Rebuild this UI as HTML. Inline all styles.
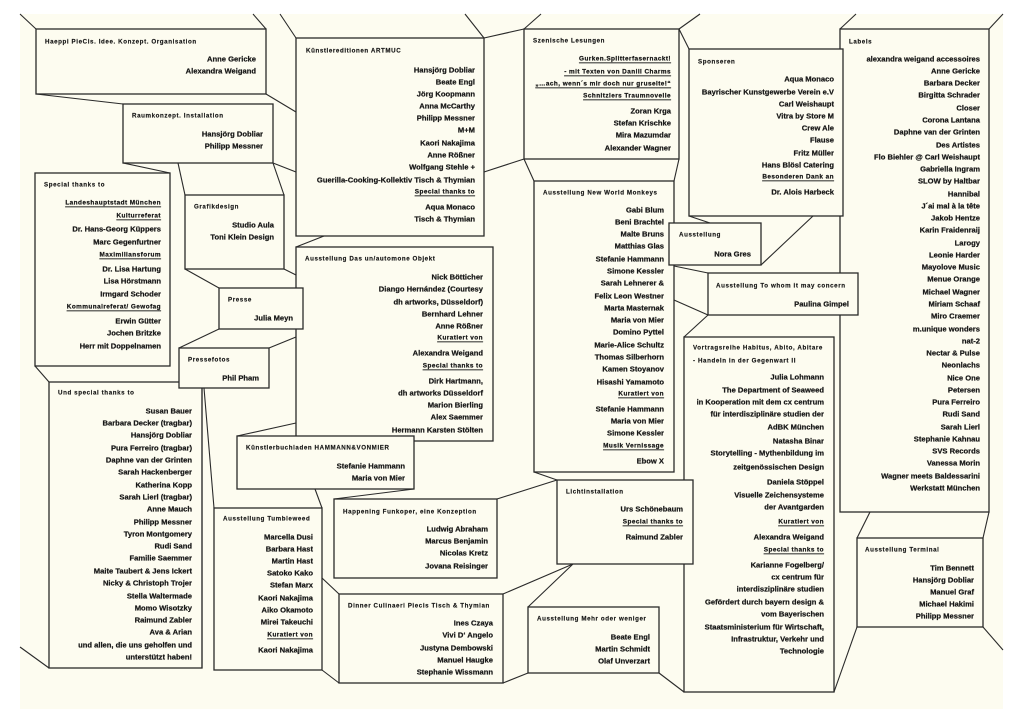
<!DOCTYPE html>
<html><head><meta charset="utf-8"><style>
html,body{margin:0;padding:0;background:#fff}
svg{display:block}
.n{font-family:"Liberation Sans",sans-serif;font-weight:bold;font-size:7.6px;text-anchor:end;dominant-baseline:central;fill:#151515;stroke:#151515;stroke-width:0.22px}
.u{text-decoration:underline;font-size:6.4px;letter-spacing:0.45px}
.h{font-family:"Liberation Sans",sans-serif;font-weight:bold;font-size:6.2px;letter-spacing:0.6px;dominant-baseline:central;fill:#151515;stroke:#151515;stroke-width:0.15px}
rect{fill:#fdfcf0;stroke:#2a2a2a;stroke-width:1.3}
line{stroke:#2a2a2a;stroke-width:1.1}
</style></head><body>
<svg width="1024" height="724" viewBox="0 0 1024 724" xmlns="http://www.w3.org/2000/svg">
<rect x="20" y="14" width="983" height="695" style="fill:#fdfcf0;stroke:none"/>
<line x1="20" y1="14" x2="36" y2="29"/><line x1="253" y1="14" x2="266" y2="29"/>
<line x1="36" y1="94" x2="123" y2="104"/><line x1="266" y1="94" x2="296" y2="112"/>
<line x1="123" y1="163" x2="170" y2="173"/><line x1="178" y1="163" x2="185" y2="195"/>
<line x1="273" y1="163" x2="284" y2="195"/><line x1="273" y1="163" x2="296" y2="172"/>
<line x1="185" y1="269" x2="219" y2="288"/><line x1="284" y1="269" x2="296" y2="275"/>
<line x1="219" y1="329" x2="179" y2="348"/><line x1="269" y1="348" x2="296" y2="337"/>
<line x1="204" y1="388" x2="214" y2="508"/><line x1="35" y1="366" x2="49" y2="382"/>
<line x1="20" y1="647" x2="49" y2="668"/>
<line x1="315" y1="489" x2="322" y2="508"/><line x1="322" y1="578" x2="339" y2="594"/>
<line x1="322" y1="670" x2="339" y2="683"/>
<line x1="280" y1="14" x2="296" y2="38"/><line x1="465" y1="14" x2="484" y2="38"/>
<line x1="484" y1="38" x2="524" y2="29"/><line x1="484" y1="172" x2="524" y2="159"/>
<line x1="324" y1="236" x2="296" y2="247"/>
<line x1="524" y1="29" x2="541" y2="14"/><line x1="679" y1="29" x2="700" y2="14"/>
<line x1="679" y1="29" x2="689" y2="49"/><line x1="524" y1="159" x2="534" y2="181"/>
<line x1="679" y1="159" x2="674" y2="181"/>
<line x1="840" y1="29" x2="856" y2="14"/><line x1="989" y1="29" x2="1003" y2="14"/>
<line x1="689" y1="216" x2="710" y2="223"/><line x1="761" y1="265" x2="813" y2="216"/>
<line x1="674" y1="266" x2="708" y2="273"/><line x1="674" y1="300" x2="708" y2="315"/>
<line x1="708" y1="315" x2="684" y2="337"/>
<line x1="296" y1="423" x2="237" y2="436"/><line x1="414" y1="489" x2="334" y2="499"/>
<line x1="534" y1="472" x2="557" y2="480"/><line x1="557" y1="480" x2="497" y2="499"/>
<line x1="573" y1="564" x2="503" y2="594"/><line x1="573" y1="564" x2="528" y2="607"/>
<line x1="503" y1="683" x2="528" y2="673"/><line x1="659" y1="673" x2="684" y2="692"/>
<line x1="834" y1="692" x2="857" y2="627"/><line x1="870" y1="512" x2="857" y2="538"/>
<line x1="989" y1="512" x2="983" y2="538"/><line x1="983" y1="627" x2="1003" y2="650"/>

<rect x="840" y="29" width="149" height="483"/>
<text class="h" x="849" y="42">Labels</text>
<g>
<text class="n" x="980" y="59">alexandra weigand accessoires</text><text class="n" x="980" y="71">Anne Gericke</text><text class="n" x="980" y="83">Barbara Decker</text><text class="n" x="980" y="95">Birgitta Schrader</text><text class="n" x="980" y="108">Closer</text><text class="n" x="980" y="120">Corona Lantana</text><text class="n" x="980" y="132">Daphne van der Grinten</text><text class="n" x="980" y="145">Des Artistes</text><text class="n" x="980" y="157">Flo Biehler @ Carl Weishaupt</text><text class="n" x="980" y="169">Gabriella Ingram</text><text class="n" x="980" y="181">SLOW by Haltbar</text><text class="n" x="980" y="194">Hannibal</text><text class="n" x="980" y="206">J´ai mal à la tête</text><text class="n" x="980" y="218">Jakob Hentze</text><text class="n" x="980" y="230">Karin Fraidenraij</text><text class="n" x="980" y="243">Larogy</text><text class="n" x="980" y="255">Leonie Harder</text><text class="n" x="980" y="267">Mayolove Music</text><text class="n" x="980" y="279">Menue Orange</text><text class="n" x="980" y="292">Michael Wagner</text><text class="n" x="980" y="304">Miriam Schaaf</text><text class="n" x="980" y="316">Miro Craemer</text><text class="n" x="980" y="329">m.unique wonders</text><text class="n" x="980" y="341">nat-2</text><text class="n" x="980" y="353">Nectar &amp; Pulse</text><text class="n" x="980" y="365">Neonlachs</text><text class="n" x="980" y="378">Nice One</text><text class="n" x="980" y="390">Petersen</text><text class="n" x="980" y="402">Pura Ferreiro</text><text class="n" x="980" y="414">Rudi Sand</text><text class="n" x="980" y="427">Sarah Lierl</text><text class="n" x="980" y="439">Stephanie Kahnau</text><text class="n" x="980" y="451">SVS Records</text><text class="n" x="980" y="463">Vanessa Morin</text><text class="n" x="980" y="476">Wagner meets Baldessarini</text><text class="n" x="980" y="488">Werkstatt München</text>
</g>

<rect x="36" y="29" width="230" height="65"/>
<text class="h" x="45" y="42">Haeppi PieCis. Idee. Konzept. Organisation</text>
<text class="n" x="256" y="59">Anne Gericke</text><text class="n" x="256" y="71">Alexandra Weigand</text>

<rect x="123" y="104" width="150" height="59"/>
<text class="h" x="132" y="116">Raumkonzept. Installation</text>
<text class="n" x="263" y="134">Hansjörg Dobliar</text><text class="n" x="263" y="146">Philipp Messner</text>

<rect x="35" y="173" width="135" height="193"/>
<text class="h" x="44" y="185">Special thanks to</text>
<text class="n u" x="161" y="203">Landeshauptstadt München</text><text class="n u" x="161" y="216">Kulturreferat</text><text class="n" x="161" y="229">Dr. Hans-Georg Küppers</text><text class="n" x="161" y="242">Marc Gegenfurtner</text><text class="n u" x="161" y="255">Maximiliansforum</text><text class="n" x="161" y="269">Dr. Lisa Hartung</text><text class="n" x="161" y="281">Lisa Hörstmann</text><text class="n" x="161" y="294">Irmgard Schoder</text><text class="n u" x="161" y="307">Kommunalreferat/ Gewofag</text><text class="n" x="161" y="321">Erwin Gütter</text><text class="n" x="161" y="333">Jochen Britzke</text><text class="n" x="161" y="346">Herr mit Doppelnamen</text>

<rect x="185" y="195" width="99" height="74"/>
<text class="h" x="194" y="207">Grafikdesign</text>
<text class="n" x="274" y="225">Studio Aula</text><text class="n" x="274" y="237">Toni Klein Design</text>

<rect x="296" y="38" width="188" height="198"/>
<text class="h" x="306" y="51">Künstlereditionen ARTMUC</text>
<text class="n" x="475" y="70">Hansjörg Dobliar</text><text class="n" x="475" y="82">Beate Engl</text><text class="n" x="475" y="94">Jörg Koopmann</text><text class="n" x="475" y="106">Anna McCarthy</text><text class="n" x="475" y="118">Philipp Messner</text><text class="n" x="475" y="130">M+M</text><text class="n" x="475" y="143">Kaori Nakajima</text><text class="n" x="475" y="155">Anne Rößner</text><text class="n" x="475" y="167">Wolfgang Stehle +</text><text class="n" x="475" y="180">Guerilla-Cooking-Kollektiv Tisch &amp; Thymian</text><text class="n u" x="475" y="192">Special thanks to</text><text class="n" x="475" y="207">Aqua Monaco</text><text class="n" x="475" y="219">Tisch &amp; Thymian</text>

<rect x="296" y="247" width="197" height="194"/>
<text class="h" x="305" y="259">Ausstellung Das un/automone Objekt</text>
<text class="n" x="483" y="277">Nick Bötticher</text><text class="n" x="483" y="289">Diango Hernández (Courtesy</text><text class="n" x="483" y="302">dh artworks, Düsseldorf)</text><text class="n" x="483" y="314">Bernhard Lehner</text><text class="n" x="483" y="326">Anne Rößner</text><text class="n u" x="483" y="338">Kuratiert von</text><text class="n" x="483" y="353">Alexandra Weigand</text><text class="n u" x="483" y="366">Special thanks to</text><text class="n" x="483" y="381">Dirk Hartmann,</text><text class="n" x="483" y="393">dh artworks Düsseldorf</text><text class="n" x="483" y="405">Marion Bierling</text><text class="n" x="483" y="417">Alex Saemmer</text><text class="n" x="483" y="430">Hermann Karsten Stölten</text>

<rect x="219" y="288" width="84" height="41"/>
<text class="h" x="228" y="300">Presse</text>
<text class="n" x="293" y="318">Julia Meyn</text>

<rect x="49" y="382" width="153" height="286"/>
<text class="h" x="58" y="393">Und special thanks to</text>
<text class="n" x="192" y="411">Susan Bauer</text><text class="n" x="192" y="423">Barbara Decker (tragbar)</text><text class="n" x="192" y="435">Hansjörg Dobliar</text><text class="n" x="192" y="448">Pura Ferreiro (tragbar)</text><text class="n" x="192" y="460">Daphne van der Grinten</text><text class="n" x="192" y="472">Sarah Hackenberger</text><text class="n" x="192" y="485">Katherina Kopp</text><text class="n" x="192" y="497">Sarah Lierl (tragbar)</text><text class="n" x="192" y="509">Anne Mauch</text><text class="n" x="192" y="522">Philipp Messner</text><text class="n" x="192" y="534">Tyron Montgomery</text><text class="n" x="192" y="546">Rudi Sand</text><text class="n" x="192" y="558">Familie Saemmer</text><text class="n" x="192" y="571">Maite Taubert &amp; Jens Ickert</text><text class="n" x="192" y="583">Nicky &amp; Christoph Trojer</text><text class="n" x="192" y="596">Stella Waltermade</text><text class="n" x="192" y="608">Momo Wisotzky</text><text class="n" x="192" y="620">Raimund Zabler</text><text class="n" x="192" y="632">Ava &amp; Arian</text><text class="n" x="192" y="645">und allen, die uns geholfen und</text><text class="n" x="192" y="657">unterstützt haben!</text>

<rect x="179" y="348" width="90" height="40"/>
<text class="h" x="188" y="360">Pressefotos</text>
<text class="n" x="259" y="378">Phil Pham</text>
<line x1="202" y1="388" x2="202" y2="668"/>

<rect x="237" y="436" width="177" height="53"/>
<text class="h" x="246" y="448">Künstlerbuchladen HAMMANN&amp;VONMIER</text>
<text class="n" x="405" y="466">Stefanie Hammann</text><text class="n" x="405" y="478">Maria von Mier</text>

<rect x="214" y="508" width="108" height="162"/>
<text class="h" x="223" y="519">Ausstellung Tumbleweed</text>
<text class="n" x="313" y="537">Marcella Dusi</text><text class="n" x="313" y="549">Barbara Hast</text><text class="n" x="313" y="561">Martin Hast</text><text class="n" x="313" y="573">Satoko Kako</text><text class="n" x="313" y="585">Stefan Marx</text><text class="n" x="313" y="598">Kaori Nakajima</text><text class="n" x="313" y="610">Aiko Okamoto</text><text class="n" x="313" y="622">Mirei Takeuchi</text><text class="n u" x="313" y="635">Kuratiert von</text><text class="n" x="313" y="650">Kaori Nakajima</text>

<rect x="334" y="499" width="163" height="79"/>
<text class="h" x="343" y="512">Happening   Funkoper, eine Konzeption</text>
<text class="n" x="488" y="529">Ludwig Abraham</text><text class="n" x="488" y="541">Marcus Benjamin</text><text class="n" x="488" y="553">Nicolas Kretz</text><text class="n" x="488" y="566">Jovana Reisinger</text>

<rect x="339" y="594" width="164" height="89"/>
<text class="h" x="348" y="606">Dinner Culinaeri Piecis Tisch &amp; Thymian</text>
<text class="n" x="493" y="623">Ines Czaya</text><text class="n" x="493" y="635">Vivi D‘ Angelo</text><text class="n" x="493" y="648">Justyna Dembowski</text><text class="n" x="493" y="660">Manuel Haugke</text><text class="n" x="493" y="672">Stephanie Wissmann</text>

<rect x="524" y="29" width="155" height="130"/>
<text class="h" x="533" y="41">Szenische Lesungen</text>
<text class="n u" x="671" y="59">Gurken.Splitterfasernackt!</text><text class="n u" x="671" y="72">- mit Texten von Daniil Charms</text><text class="n u" x="671" y="84">„…ach, wenn´s mir doch nur gruselte!“</text><text class="n u" x="671" y="96">Schnitzlers Traumnovelle</text><text class="n" x="671" y="111">Zoran Krga</text><text class="n" x="671" y="123">Stefan Krischke</text><text class="n" x="671" y="135">Mira Mazumdar</text><text class="n" x="671" y="148">Alexander Wagner</text>

<rect x="534" y="181" width="140" height="291"/>
<text class="h" x="543" y="193">Ausstellung New World Monkeys</text>
<text class="n" x="664" y="210">Gabi Blum</text><text class="n" x="664" y="222">Beni Brachtel</text><text class="n" x="664" y="234">Malte Bruns</text><text class="n" x="664" y="246">Matthias Glas</text><text class="n" x="664" y="259">Stefanie Hammann</text><text class="n" x="664" y="271">Simone Kessler</text><text class="n" x="664" y="283">Sarah Lehnerer &amp;</text><text class="n" x="664" y="296">Felix Leon Westner</text><text class="n" x="664" y="308">Marta Masternak</text><text class="n" x="664" y="320">Maria von Mier</text><text class="n" x="664" y="332">Domino Pyttel</text><text class="n" x="664" y="345">Marie-Alice Schultz</text><text class="n" x="664" y="357">Thomas Silberhorn</text><text class="n" x="664" y="369">Kamen Stoyanov</text><text class="n" x="664" y="382">Hisashi Yamamoto</text><text class="n u" x="664" y="394">Kuratiert von</text><text class="n" x="664" y="409">Stefanie Hammann</text><text class="n" x="664" y="421">Maria von Mier</text><text class="n" x="664" y="433">Simone Kessler</text><text class="n u" x="664" y="446">Musik Vernissage</text><text class="n" x="664" y="461">Ebow X</text>

<rect x="689" y="49" width="154" height="167"/>
<text class="h" x="698" y="62">Sponseren</text>
<text class="n" x="834" y="79">Aqua Monaco</text><text class="n" x="834" y="92">Bayrischer Kunstgewerbe Verein e.V</text><text class="n" x="834" y="104">Carl Weishaupt</text><text class="n" x="834" y="116">Vitra by Store M</text><text class="n" x="834" y="128">Crew Ale</text><text class="n" x="834" y="140">Flause</text><text class="n" x="834" y="153">Fritz Müller</text><text class="n" x="834" y="165">Hans Blösl Catering</text><text class="n u" x="834" y="177">Besonderen Dank an</text><text class="n" x="834" y="192">Dr. Alois Harbeck</text>

<rect x="669" y="223" width="92" height="42"/>
<text class="h" x="679" y="235">Ausstellung</text>
<text class="n" x="751" y="254">Nora Gres</text>

<rect x="708" y="273" width="150" height="42"/>
<text class="h" x="716" y="286">Ausstellung To whom it may concern</text>
<text class="n" x="849" y="304">Paulina Gimpel</text>

<rect x="684" y="337" width="150" height="355"/>
<text class="h" x="693" y="348">Vortragsreihe Habitus, Abito, Abitare</text>
<text class="h" x="693" y="361">- Handeln in der Gegenwart II</text>
<text class="n" x="824" y="377">Julia Lohmann</text><text class="n" x="824" y="390">The Department of Seaweed</text><text class="n" x="824" y="402">in Kooperation mit dem cx centrum</text><text class="n" x="824" y="414">für interdisziplinäre studien der</text><text class="n" x="824" y="427">AdBK München</text><text class="n" x="824" y="441">Natasha Binar</text><text class="n" x="824" y="453">Storytelling - Mythenbildung im</text><text class="n" x="824" y="467">zeitgenössischen Design</text><text class="n" x="824" y="482">Daniela Stöppel</text><text class="n" x="824" y="495">Visuelle Zeichensysteme</text><text class="n" x="824" y="507">der Avantgarden</text><text class="n u" x="824" y="522">Kuratiert von</text><text class="n" x="824" y="537">Alexandra Weigand</text><text class="n u" x="824" y="550">Special thanks to</text><text class="n" x="824" y="565">Karianne Fogelberg/</text><text class="n" x="824" y="577">cx centrum für</text><text class="n" x="824" y="589">interdisziplinäre studien</text><text class="n" x="824" y="602">Gefördert durch bayern design &amp;</text><text class="n" x="824" y="614">vom Bayerischen</text><text class="n" x="824" y="627">Staatsministerium für Wirtschaft,</text><text class="n" x="824" y="639">Infrastruktur, Verkehr und</text><text class="n" x="824" y="651">Technologie</text>

<rect x="557" y="480" width="136" height="84"/>
<text class="h" x="566" y="492">Lichtinstallation</text>
<text class="n" x="683" y="509">Urs Schönebaum</text><text class="n u" x="683" y="522">Special thanks to</text><text class="n" x="683" y="537">Raimund Zabler</text>

<rect x="528" y="607" width="131" height="66"/>
<text class="h" x="537" y="619">Ausstellung Mehr oder weniger</text>
<text class="n" x="650" y="637">Beate Engl</text><text class="n" x="650" y="649">Martin Schmidt</text><text class="n" x="650" y="661">Olaf Unverzart</text>

<rect x="857" y="538" width="126" height="89"/>
<text class="h" x="865" y="550">Ausstellung Terminal</text>
<text class="n" x="974" y="568">Tim Bennett</text><text class="n" x="974" y="580">Hansjörg Dobliar</text><text class="n" x="974" y="592">Manuel Graf</text><text class="n" x="974" y="604">Michael Hakimi</text><text class="n" x="974" y="616">Philipp Messner</text>
</svg>
</body></html>
